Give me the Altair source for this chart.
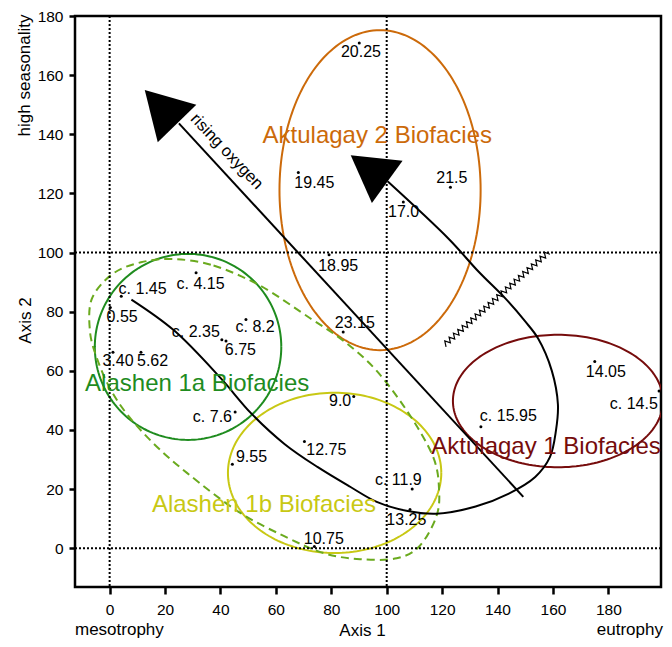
import math
import altair as alt
import pandas as pd

# ---------------- axes ----------------
X_DOMAIN = [-12.5, 199.0]
Y_DOMAIN = [-13.1, 180.0]
X_TICKS = [0, 20, 40, 60, 80, 100, 120, 140, 160, 180]
Y_TICKS = [0, 20, 40, 60, 80, 100, 120, 140, 160, 180]
REF_X = [0, 100]
REF_Y = [0, 100]
W, H = 586, 571

# ---------------- samples ----------------
sample_names = ["20.25", "19.45", "21.5", "17.0", "18.95", "23.15", "c. 1.45", "c. 4.15",
                "0.55", "c. 2.35", "6.75", "c. 8.2", "3.40", "5.62", "c. 7.6", "9.0",
                "12.75", "9.55", "c. 11.9", "13.25", "10.75", "c. 15.95", "14.05", "c. 14.5"]
sample_x = [90.1, 68.1, 123.0, 106.0, 79.2, 84.3, 4.2, 31.2,
            0.25, 40.5, 42.0, 49.2, 1.2, 11.3, 45.3, 88.1,
            70.3, 44.3, 109.2, 108.4, 73.9, 134.0, 175.1, 198.3]
sample_y = [170.9, 127.1, 122.1, 117.1, 99.3, 73.1, 85.2, 93.2,
            81.4, 70.5, 70.1, 77.4, 66.3, 66.3, 46.1, 51.3,
            36.1, 28.4, 20.0, 13.1, 0.6, 41.1, 63.2, 53.2]
label_x = [90.7, 73.9, 123.5, 106.1, 82.5, 88.5, 11.9, 32.8,
           4.5, 31.1, 47.2, 52.5, 3.0, 15.5, 37.1, 83.2,
           78.2, 51.2, 104.2, 107.1, 77.3, 143.9, 179.1, 189.2]
label_y = [167.7, 123.6, 125.3, 113.7, 95.4, 76.1, 87.8, 89.5,
           78.2, 73.2, 67.0, 74.8, 63.2, 63.2, 44.4, 49.8,
           33.1, 30.8, 23.2, 9.7, 3.3, 44.7, 59.5, 48.9]

# ---------------- biofacies ellipses ----------------
facies_names = ["Alashen 1a Biofacies", "Aktulagay 2 Biofacies",
                "Alashen 1b Biofacies", "Aktulagay 1 Biofacies"]
facies_cx = [28.3, 97.6, 81.2, 161.8]
facies_cy = [68.1, 121.1, 25.5, 49.8]
facies_rx = [33.65, 36.3, 38.5, 37.9]
facies_ry = [31.45, 54.1, 27.1, 22.4]
facies_label_x = [31.6, 96.6, 55.7, 157.5]
facies_label_y = [53.2, 137.1, 12.4, 31.9]
facies_colors = ["#1f8c1f", "#cc6a0a", "#c8c814", "#760c0c"]

# dashed envelope around Alashen 1a + 1b
env_x = [23.2, 37.5, 54.3, 72.5, 84.6, 96.4, 108.2, 116.8, 118.9, 117.9, 111.8, 103.6,
         90.4, 77.5, 63.2, 46.4, 27.9, 16.1, 6.4, 0.0, -4.6, -7.1, -6.4, 1.1, 11.3]
env_y = [97.8, 95.6, 88.8, 77.7, 70.0, 60.0, 45.2, 30.8, 19.8, 10.7, 0.7, -3.4,
         -3.7, -1.7, 4.0, 12.4, 25.5, 35.2, 45.2, 54.3, 64.3, 73.4, 84.4, 92.8, 96.7]

# trajectory curve (ends in arrowhead)
traj_x = [7.86, 23.2, 40.0, 51.1, 63.2, 75.0, 86.8, 96.4, 107.1, 117.9, 132.1, 143.9,
          153.6, 158.9, 161.1, 161.8, 159.6, 154.6, 150.0, 142.9, 133.2, 122.5, 100.4]
traj_y = [84.1, 73.7, 57.6, 45.6, 35.2, 27.5, 20.8, 15.7, 12.7, 11.7, 14.1, 18.4,
          24.1, 30.8, 39.9, 48.6, 60.0, 71.0, 76.7, 84.4, 93.5, 104.5, 124.0]

# "rising oxygen" arrow
arrow_x = [25.0, 149.3]
arrow_y = [143.7, 17.4]
head_x = [18.5, 93.6]
head_y = [149.3, 128.4]
head_angle = [316, 306]
head_size = [2880, 2720]

# zigzag line end points
zz_x = [120.8, 158.3]
zz_y = [68.8, 100.1]
ZZ_HALF = 2.9   # px
ZZ_AMP = 2.6    # px

FONT = "Liberation Sans"

xs = alt.Scale(domain=X_DOMAIN, nice=False, zero=False)
ys = alt.Scale(domain=Y_DOMAIN, nice=False, zero=False)

AX_X = alt.Axis(values=X_TICKS, grid=False, domain=False, tickColor="black", tickWidth=2.5,
                tickSize=7, labelPadding=8, labelFontSize=15.5, labelColor="black",
                labelFont=FONT, title="Axis 1", titleFont=FONT, titleFontSize=17,
                titleFontWeight="normal", titleColor="black", titleX=287, titleY=48,
                titleBaseline="alphabetic", titleAlign="center", labelFlush=False)
AX_Y = alt.Axis(values=Y_TICKS, grid=False, domain=False, tickColor="black", tickWidth=2.5,
                tickSize=6, labelPadding=6, labelFontSize=15.5, labelColor="black",
                labelFont=FONT, title="Axis 2", titleFont=FONT, titleFontSize=17,
                titleFontWeight="normal", titleColor="black", titleX=-45, titleY=304,
                titleAngle=270, titleBaseline="alphabetic", titleAlign="center",
                labelFlush=False)


def X(f="x"):
    return alt.X(f, type="quantitative", scale=xs, axis=AX_X)


def Y(f="y"):
    return alt.Y(f, type="quantitative", scale=ys, axis=AX_Y)


# ellipse outlines
rows = []
for name, cx, cy, rx, ry in zip(facies_names, facies_cx, facies_cy, facies_rx, facies_ry):
    for k in range(181):
        t = 2 * math.pi * k / 180
        rows.append({"facies": name, "o": k, "x": cx + rx * math.cos(t), "y": cy + ry * math.sin(t)})
ell_df = pd.DataFrame(rows)

color = alt.Color("facies:N", scale=alt.Scale(domain=facies_names, range=facies_colors), legend=None)

ellipses = alt.Chart(ell_df).mark_line(strokeWidth=2, clip=True).encode(
    x=X(), y=Y(), detail="facies:N", order="o:Q", color=color)

env_df = pd.DataFrame({"x": env_x, "y": env_y, "o": list(range(len(env_x)))})
envelope = alt.Chart(env_df).mark_line(strokeWidth=2, strokeDash=[8, 5], color="#6aaa1e",
                                       interpolate="cardinal-closed").encode(
    x=X(), y=Y(), order="o:Q")

traj_df = pd.DataFrame({"x": traj_x, "y": traj_y, "o": list(range(len(traj_x)))})
traj = alt.Chart(traj_df).mark_line(strokeWidth=2, color="black", interpolate="catmull-rom").encode(
    x=X(), y=Y(), order="o:Q")

arrow_df = pd.DataFrame({"x": arrow_x, "y": arrow_y, "o": [0, 1]})
arrow = alt.Chart(arrow_df).mark_line(strokeWidth=2, color="black").encode(x=X(), y=Y(), order="o:Q")

heads_df = pd.DataFrame({"x": head_x, "y": head_y, "a": head_angle, "s": head_size})
heads = alt.Chart(heads_df).mark_point(shape="triangle-up", filled=True, color="black", opacity=1).encode(
    x=X(), y=Y(), angle=alt.Angle("a:Q", scale=None), size=alt.Size("s:Q", scale=None))

# zigzag (built in pixel space between the two end points)
sx = W / (X_DOMAIN[1] - X_DOMAIN[0])
sy = H / (Y_DOMAIN[1] - Y_DOMAIN[0])
ax, ay = zz_x[0] * sx, zz_y[0] * sy
bx, by = zz_x[1] * sx, zz_y[1] * sy
L = math.hypot(bx - ax, by - ay)
ux, uy = (bx - ax) / L, (by - ay) / L
nx, ny = -uy, ux
n = int(round(L / ZZ_HALF))
zrows = []
for i in range(n + 1):
    t = i / n
    off = ZZ_AMP * (1 if i % 2 else -1)
    px = ax + (bx - ax) * t + nx * off
    py = ay + (by - ay) * t + ny * off
    zrows.append({"x": px / sx, "y": py / sy, "o": i})
zz = alt.Chart(pd.DataFrame(zrows)).mark_line(strokeWidth=1.2, color="black").encode(
    x=X(), y=Y(), order="o:Q")

# dotted reference lines
vref = alt.Chart(pd.DataFrame({"x": REF_X})).mark_rule(strokeDash=[2, 2], strokeWidth=2, color="black").encode(
    x=X())
href = alt.Chart(pd.DataFrame({"y": REF_Y})).mark_rule(strokeDash=[2, 2], strokeWidth=2, color="black").encode(
    y=Y())

samp_df = pd.DataFrame({"x": sample_x, "y": sample_y, "lx": label_x, "ly": label_y, "name": sample_names})
dots = alt.Chart(samp_df).mark_circle(size=9, color="black", opacity=1).encode(x=X(), y=Y())
labels = alt.Chart(samp_df).mark_text(fontSize=16, font=FONT, color="black", baseline="middle",
                                      align="center").encode(x=X("lx"), y=Y("ly"), text="name:N")

fac_df = pd.DataFrame({"x": facies_label_x, "y": facies_label_y, "facies": facies_names})
fac_labels = alt.Chart(fac_df).mark_text(fontSize=24, font=FONT, baseline="alphabetic", align="center").encode(
    x=X(), y=Y(), text="facies:N", color=color)

rising = alt.Chart(pd.DataFrame({"x": [42.3], "y": [134.2], "t": ["rising oxygen"]})).mark_text(
    fontSize=16.5, font=FONT, color="black", angle=46.5, baseline="middle", align="center").encode(
    x=X(), y=Y(), text="t:N")

side_df = pd.DataFrame({"x": [-12.5], "y": [-29.3], "t": ["mesotrophy"]})
meso = alt.Chart(side_df).mark_text(fontSize=17, font=FONT, color="black", align="left",
                                    baseline="alphabetic").encode(x=X(), y=Y(), text="t:N")
eu_df = pd.DataFrame({"x": [199.7], "y": [-29.3], "t": ["eutrophy"]})
eu = alt.Chart(eu_df).mark_text(fontSize=17, font=FONT, color="black", align="right",
                                baseline="alphabetic").encode(x=X(), y=Y(), text="t:N")
hs_df = pd.DataFrame({"x": [-28.7], "y": [159.9], "t": ["high seasonality"]})
hs = alt.Chart(hs_df).mark_text(fontSize=17, font=FONT, color="black", align="center", angle=270,
                                baseline="alphabetic").encode(x=X(), y=Y(), text="t:N")

chart = alt.layer(
    ellipses, envelope, vref, href, traj, arrow, zz, heads, dots, labels, fac_labels, rising, meso, eu, hs
).properties(
    width=W, height=H,
    autosize=alt.AutoSizeParams(type="none"),
    padding={"left": 67, "top": 8, "right": 3, "bottom": 52},
    background="white",
).configure_view(stroke="black", strokeWidth=2.5).configure_text(font=FONT)

chart.save("out.html", embed_options={"renderer": "svg", "actions": False})
